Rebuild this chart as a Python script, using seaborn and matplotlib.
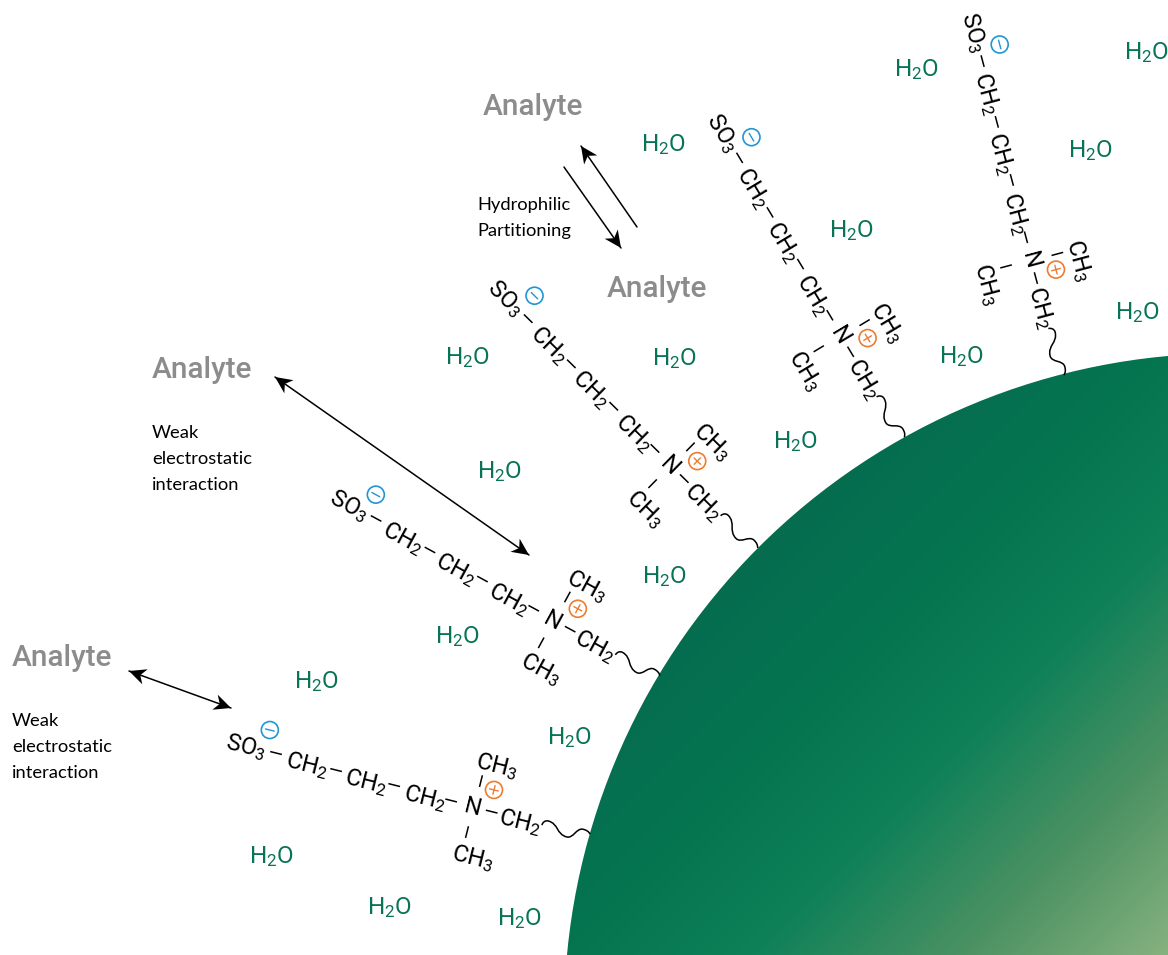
import numpy as np
import pandas as pd
import matplotlib
matplotlib.use("Agg")
import matplotlib.pyplot as plt
import seaborn as sns
from matplotlib.colors import LinearSegmentedColormap
from matplotlib.patches import Circle, PathPatch, Polygon
from matplotlib.path import Path

GREEN = "#087356"
GREY = "#8c8c8c"
BLUE = "#2196d0"
ORANGE = "#ee7b30"

# free labels, picture pixels
water_x = [916, 1146, 663, 1090, 851, 1137, 467, 674, 961, 795, 499, 664, 457, 316, 569, 271, 389, 519]
water_y = [70, 53, 145, 151, 231, 313, 358, 359, 357, 442, 472, 577, 637, 682, 738, 857, 908, 919]
analyte_x = [533, 657, 202, 62]
analyte_y = [107, 289, 370, 658]
notes = ["Hydrophilic\nPartitioning", "Weak\nelectrostatic\ninteraction", "Weak\nelectrostatic\ninteraction"]
notes_x = [477, 152, 12]
notes_y = [218, 459, 747]

# arrows: tail and head, and whether the tail has a head too
arrow_tails = [(637, 227), (564, 167), (275, 377), (129, 671)]
arrow_heads = [(581, 146), (621, 248), (529, 555), (231, 708)]
arrow_double = [False, False, True, True]

# ligands: nitrogen position and tilt in degrees
ligand_x = [473, 553, 670, 840, 1030]
ligand_y = [808, 621, 466, 336, 260]
ligand_tilt = [14, 28.5, 44.5, 59, 75]

# one ligand, measured along and across its chain from the nitrogen
atom_names = ["SO$_3$", "CH$_2$", "CH$_2$", "CH$_2$", "N", "CH$_2$", "CH$_3$", "CH$_3$"]
atom_u = [-235, -171.5, -110, -49, 0, 49, 13, 12]
atom_v = [-4, -1.5, 0.7, 1.9, 0, 2.2, -46.5, 48.5]
bond_u = [-204.4, -142, -82, -23, 19, 1.2, 0]
bond_v = [-5.7, -3.7, -3.2, -2, -1, -28, 24.8]
bond_across = [False, False, False, False, False, True, True]
minus_uv = (-216, -26.5)
plus_uv = (16, -22.6)
wave_u = [71, 71, 73, 76, 87, 87, 98, 105, 105, 112, 116, 118, 120]
wave_v = [0, -3, -5.6, -5.6, -5.6, 5.4, 5.4, 5.4, -6, -6, -6, -5, -3]

# bead
bead_x, bead_y, bead_r = 1227.4, 1016.6, 663.3
shade_pos = [1000, 1323, 1506, 1706, 1923, 2123]
shade_col = ["#066a4e", "#066d4f", "#04744f", "#0e8159", "#4d9263", "#86b27f"]

sns.set_theme(style="white")
plt.rcParams["font.family"] = ["Roboto", "DejaVu Sans"]
plt.rcParams["mathtext.fontset"] = "custom"
plt.rcParams["mathtext.rm"] = "Roboto"
plt.rcParams["mathtext.it"] = "Roboto"
plt.rcParams["mathtext.default"] = "regular"

fig = plt.figure(figsize=(11.68, 9.55), dpi=100)
ax = fig.add_axes([0, 0, 1, 1])


def place(n, u, v):
    a = np.radians(ligand_tilt[n])
    x = ligand_x[n] + np.asarray(u) * np.cos(a) - np.asarray(v) * np.sin(a)
    y = ligand_y[n] + np.asarray(u) * np.sin(a) + np.asarray(v) * np.cos(a)
    return x, y


def stealth(tip, back):
    # barbed arrow head pointing at tip
    tip, back = np.array(tip, float), np.array(back, float)
    d = (back - tip) / np.linalg.norm(back - tip)
    s = np.array([-d[1], d[0]])
    pts = [tip, tip + 17 * d + 8 * s, tip + 12 * d, tip + 17 * d - 8 * s]
    ax.add_patch(Polygon(pts, closed=True, fc="black", ec="none", zorder=3))


# bead with diagonal shading, clipped to the circle
xx, yy = np.meshgrid(np.arange(500, 1168), np.arange(340, 955))
lo, hi = shade_pos[0], shade_pos[-1]
cmap = LinearSegmentedColormap.from_list(
    "bead", [((p - lo) / (hi - lo), c) for p, c in zip(shade_pos, shade_col)])
img = ax.imshow(xx + yy, cmap=cmap, vmin=lo, vmax=hi, extent=(500, 1168, 955, 340),
                aspect="auto", interpolation="bilinear", zorder=1)
rim = Circle((bead_x, bead_y), bead_r, transform=ax.transData, fc="none", ec="none")
ax.add_patch(rim)
img.set_clip_path(rim)

# ligands
charges = []
for n, tilt in enumerate(ligand_tilt):
    xs, ys = place(n, atom_u, atom_v)
    for name, x, y in zip(atom_names, xs, ys):
        ax.text(x, y, name, fontsize=17, color="black", rotation=-tilt,
                rotation_mode="anchor", ha="center", va="center", zorder=4)

    for u, v, across in zip(bond_u, bond_v, bond_across):
        du, dv = (0, 6) if across else (6, 0)
        bx, by = place(n, [u - du, u + du], [v - dv, v + dv])
        ax.plot(bx, by, color="black", lw=1.1, solid_capstyle="butt", zorder=3)

    wx, wy = place(n, wave_u, wave_v)
    codes = [Path.MOVETO] + [Path.CURVE4] * 12
    ax.add_patch(PathPatch(Path(np.column_stack([wx, wy]), codes), fc="none", ec="black", lw=1.1, zorder=3))

    mx, my = place(n, [minus_uv[0]], [minus_uv[1]])
    px, py = place(n, [plus_uv[0]], [plus_uv[1]])
    charges.append({"x": mx[0], "y": my[0], "sign": "minus"})
    charges.append({"x": px[0], "y": py[0], "sign": "plus"})

    # signs inside the circles
    bx, by = place(n, [minus_uv[0] - 4.5, minus_uv[0] + 4.5], [minus_uv[1], minus_uv[1]])
    ax.plot(bx, by, color=BLUE, lw=1, zorder=5)
    bx, by = place(n, [plus_uv[0] - 4.5, plus_uv[0] + 4.5], [plus_uv[1], plus_uv[1]])
    ax.plot(bx, by, color=ORANGE, lw=1, zorder=5)
    bx, by = place(n, [plus_uv[0], plus_uv[0]], [plus_uv[1] - 4.5, plus_uv[1] + 4.5])
    ax.plot(bx, by, color=ORANGE, lw=1, zorder=5)

charge_df = pd.DataFrame(charges)
for sign, colour in [("minus", BLUE), ("plus", ORANGE)]:
    sns.scatterplot(data=charge_df[charge_df["sign"] == sign], x="x", y="y", ax=ax, s=150,
                    facecolor="none", edgecolor=colour, linewidth=1.2, zorder=5, legend=False)

# arrows
for tail, head, both in zip(arrow_tails, arrow_heads, arrow_double):
    ax.plot([tail[0], head[0]], [tail[1], head[1]], color="black", lw=1.1, zorder=3)
    stealth(head, tail)
    if both:
        stealth(tail, head)

# labels
for x, y in zip(water_x, water_y):
    ax.text(x, y, "H$_2$O", fontsize=17.5, color=GREEN, ha="center", va="center", zorder=4)
for x, y in zip(analyte_x, analyte_y):
    ax.text(x, y, "Analyte", fontsize=21.5, color=GREY, fontweight=500, ha="center", va="center", zorder=4)
for s, x, y in zip(notes, notes_x, notes_y):
    ax.text(x, y, s, fontsize=13.2, color="black", family=["Lato", "DejaVu Sans"], ha="left", va="center",
            linespacing=1.8, zorder=4)

ax.set_xlim(0, 1168)
ax.set_ylim(955, 0)
ax.set_xlabel("")
ax.set_ylabel("")
ax.axis("off")

fig.savefig("out.png", dpi=100, facecolor="white")
